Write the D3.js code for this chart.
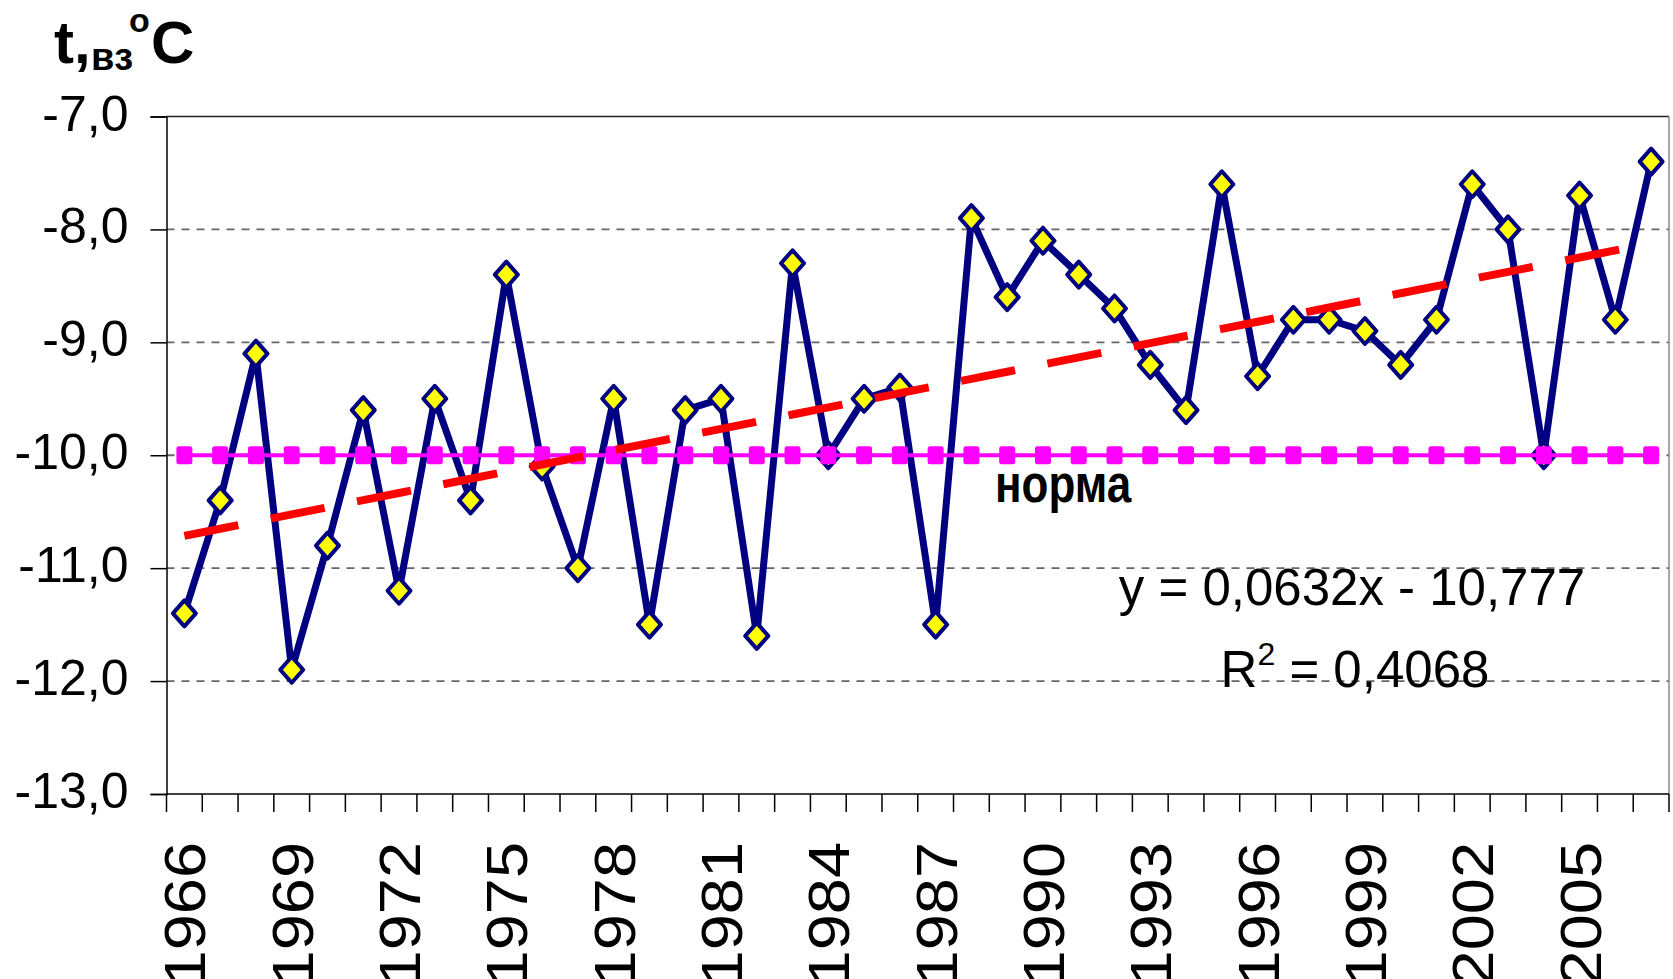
<!DOCTYPE html>
<html>
<head>
<meta charset="utf-8">
<script src="https://cdn.jsdelivr.net/npm/d3@7"></script>
<style>
  body { margin: 0; background: #fff; }
  text { font-family: "Liberation Sans", Arial, sans-serif; }
</style>
</head>
<body>
<div id="chart"></div>
<script>
var years = [1966, 1967, 1968, 1969, 1970, 1971, 1972, 1973, 1974, 1975,
  1976, 1977, 1978, 1979, 1980, 1981, 1982, 1983, 1984, 1985,
  1986, 1987, 1988, 1989, 1990, 1991, 1992, 1993, 1994, 1995,
  1996, 1997, 1998, 1999, 2000, 2001, 2002, 2003, 2004, 2005,
  2006, 2007];
var temps = [-11.4, -10.4, -9.1, -11.9, -10.8, -9.6, -11.2, -9.5, -10.4, -8.4,
  -10.1, -11.0, -9.5, -11.5, -9.6, -9.5, -11.6, -8.3, -10.0, -9.5,
  -9.4, -11.5, -7.9, -8.6, -8.1, -8.4, -8.7, -9.2, -9.6, -7.6,
  -9.3, -8.8, -8.8, -8.9, -9.2, -8.8, -7.6, -8.0, -10.0, -7.7,
  -8.8, -7.4];
var yTicks = [-7, -8, -9, -10, -11, -12, -13];
var xLabels = [1966, 1969, 1972, 1975, 1978, 1981, 1984, 1987, 1990, 1993, 1996, 1999, 2002, 2005];
var normValue = -10.0;
var trendSlope = 0.0632, trendIntercept = -10.777, trendR2 = 0.4068;

var W = 1673, H = 979;
var plotL = 166.5, plotR = 1669, plotT = 116.5, plotB = 794;

var svg = d3.select("#chart").append("svg")
    .attr("width", W)
    .attr("height", H);

var x = d3.scaleBand().domain(years).range([plotL, plotR]);
var y = d3.scaleLinear().domain([-13, -7]).range([plotB, plotT]);
var cx = function(d) { return x(d) + x.bandwidth() / 2; };
var fmt = function(v) { return d3.format(".1f")(v).replace(".", ",").replace("−", "-"); };

// grid
svg.append("g").selectAll("line")
    .data(yTicks.filter(function(t) { return t > -13 && t < -7; }))
  .enter().append("line")
    .attr("x1", plotL).attr("x2", plotR)
    .attr("y1", y).attr("y2", y)
    .attr("stroke", "#666")
    .attr("stroke-width", 1.8)
    .attr("stroke-dasharray", "8,7");

// plot frame
svg.append("line").attr("x1", plotL).attr("x2", plotR).attr("y1", y(-7)).attr("y2", y(-7))
    .attr("stroke", "#222").attr("stroke-width", 1.5);
svg.append("line").attr("x1", plotR).attr("x2", plotR).attr("y1", y(-7)).attr("y2", y(-13))
    .attr("stroke", "#888").attr("stroke-width", 1.5);

// y axis
var yAxis = svg.append("g")
    .attr("transform", "translate(" + plotL + ",0)")
    .call(d3.axisLeft(y).tickValues(yTicks).tickSize(16).tickFormat(fmt).tickPadding(22));
yAxis.select(".domain").attr("stroke", "#000").attr("stroke-width", 1.5);
yAxis.selectAll(".tick line").attr("stroke", "#000").attr("stroke-width", 1.5);
yAxis.selectAll(".tick text")
    .attr("font-size", 50)
    .attr("font-family", "Liberation Sans, Arial, sans-serif")
    .attr("fill", "#000")
    .attr("dy", null)
    .attr("y", 13.5);

// x axis: ticks on band boundaries
var xAxis = svg.append("g");
xAxis.append("line")
    .attr("x1", plotL).attr("x2", plotR).attr("y1", plotB).attr("y2", plotB)
    .attr("stroke", "#000").attr("stroke-width", 1.5);
xAxis.selectAll("line.tk")
    .data(years.concat(["end"]))
  .enter().append("line")
    .attr("class", "tk")
    .attr("x1", function(d) { return d === "end" ? plotR : x(d); })
    .attr("x2", function(d) { return d === "end" ? plotR : x(d); })
    .attr("y1", plotB).attr("y2", plotB + 18)
    .attr("stroke", "#000").attr("stroke-width", 1.5);
xAxis.selectAll("text")
    .data(xLabels)
  .enter().append("text")
    .attr("transform", function(d) { return "translate(" + (cx(d) + 21) + ",842) rotate(-90) scale(1.12,1)"; })
    .attr("text-anchor", "end")
    .attr("font-size", 58)
    .attr("fill", "#000")
    .text(function(d) { return d; });

// temperature series
var line = d3.line().x(function(d, i) { return cx(years[i]); }).y(function(d) { return y(d); });
svg.append("path")
    .datum(temps)
    .attr("d", line)
    .attr("fill", "none")
    .attr("stroke", "#000080")
    .attr("stroke-width", 7)
    .attr("stroke-linejoin", "round");

svg.append("g").selectAll("path")
    .data(temps)
  .enter().append("path")
    .attr("transform", function(d, i) { return "translate(" + cx(years[i]) + "," + y(d) + ")"; })
    .attr("d", "M0,-13L11.5,0L0,13L-11.5,0Z")
    .attr("fill", "#ffff00")
    .attr("stroke", "#000080")
    .attr("stroke-width", 4)
    .attr("stroke-linejoin", "round");

// norma series
var norm = years.map(function() { return normValue; });
svg.append("path")
    .datum(norm)
    .attr("d", line)
    .attr("fill", "none")
    .attr("stroke", "#ff00ff")
    .attr("stroke-width", 4);
svg.append("g").selectAll("rect")
    .data(norm)
  .enter().append("rect")
    .attr("x", function(d, i) { return cx(years[i]) - 8; })
    .attr("y", function(d) { return y(d) - 9; })
    .attr("width", 16).attr("height", 18)
    .attr("rx", 2.5)
    .attr("fill", "#ff00ff");

// linear trend
var trend = years.map(function(d, i) { return trendIntercept + trendSlope * (i + 1); });
svg.append("path")
    .datum(trend)
    .attr("d", line)
    .attr("fill", "none")
    .attr("stroke", "#ff0000")
    .attr("stroke-width", 8)
    .attr("stroke-dasharray", "55,33");

// labels
svg.append("text")
    .attr("transform", "translate(995,502) scale(1,1.17)")
    .attr("font-size", 44)
    .attr("font-weight", "bold")
    .attr("fill", "#000")
    .text("норма");

svg.append("text")
    .attr("x", 1352).attr("y", 605)
    .attr("text-anchor", "middle")
    .attr("font-size", 51)
    .attr("fill", "#000")
    .text("y = " + String(trendSlope).replace(".", ",") + "x - " + String(-trendIntercept).replace(".", ","));

var r2 = svg.append("text")
    .attr("x", 1355).attr("y", 687)
    .attr("text-anchor", "middle")
    .attr("font-size", 51)
    .attr("fill", "#000");
r2.append("tspan").text("R");
r2.append("tspan").attr("font-size", 32).attr("dy", -22).text("2");
r2.append("tspan").attr("dy", 22).text(" = " + String(trendR2).replace(".", ","));

// title
var title = svg.append("g").attr("font-weight", "bold").attr("fill", "#000");
title.append("text").attr("x", 54).attr("y", 63).attr("font-size", 60).text("t,");
title.append("text").attr("x", 91).attr("y", 70).attr("font-size", 38).text("вз");
title.append("text").attr("x", 129).attr("y", 32).attr("font-size", 34).text("o");
title.append("text").attr("x", 151).attr("y", 63).attr("font-size", 60).text("C");
</script>
</body>
</html>
